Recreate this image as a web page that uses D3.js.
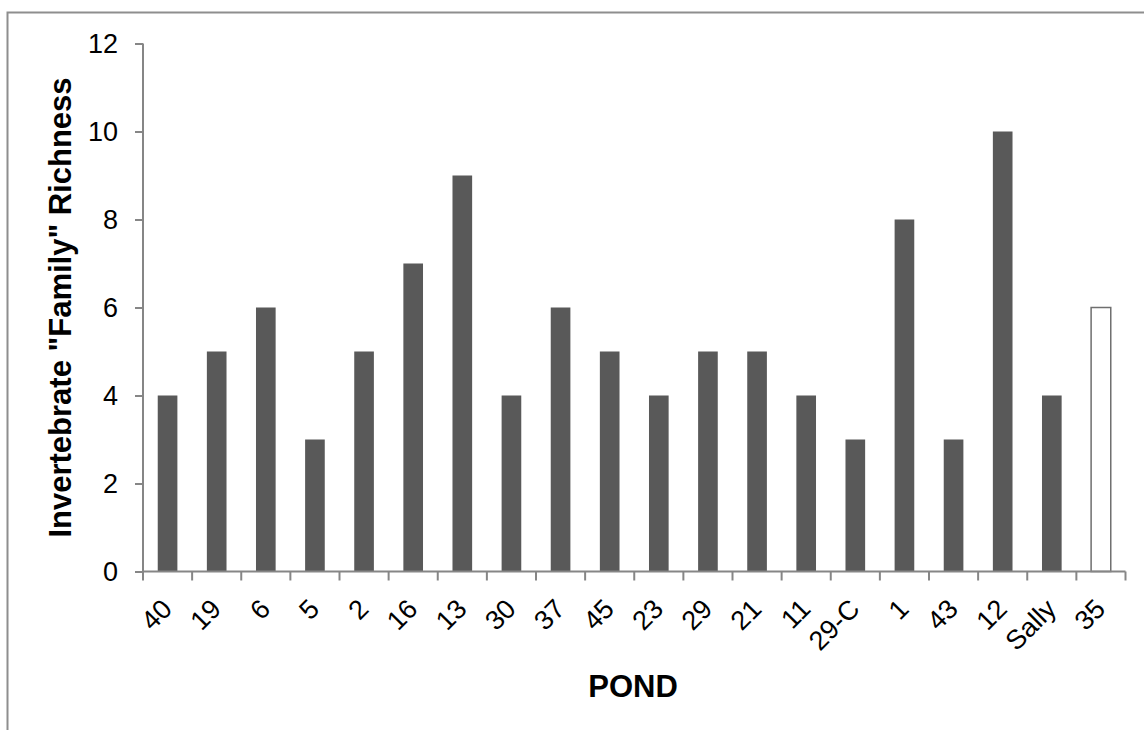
<!DOCTYPE html>
<html>
<head>
<meta charset="utf-8">
<script src="https://cdn.jsdelivr.net/npm/d3@7"></script>
<style>
  html, body { margin: 0; padding: 0; background: #fff; }
  svg { display: block; font-family: "Liberation Sans", Arial, sans-serif; }
</style>
</head>
<body>
<svg id="chart" width="1144" height="730"></svg>
<script>
// Pond names along the x axis
const ponds = ["40", "19", "6", "5", "2", "16", "13", "30", "37", "45",
               "23", "29", "21", "11", "29-C", "1", "43", "12", "Sally", "35"];
// Invertebrate family richness per pond
const richness = [4, 5, 6, 3, 5, 7, 9, 4, 6, 5, 4, 5, 5, 4, 3, 8, 3, 10, 4, 6];
// Ponds drawn as open (unfilled) bars
const openPonds = ["35"];
// Y axis tick values
const yTicks = [0, 2, 4, 6, 8, 10, 12];

const svg = d3.select("#chart");
const W = 1144, H = 730;

// Outer frame
svg.append("rect")
  .attr("x", 7.5).attr("y", 12.5)
  .attr("width", W + 20).attr("height", H + 20)
  .attr("fill", "none")
  .attr("stroke", "#8e8e8e")
  .attr("stroke-width", 2);

const plotLeft = 143, plotRight = 1125.5, plotTop = 43.5, plotBottom = 571.5;

const x = d3.scaleBand()
  .domain(ponds)
  .range([plotLeft, plotRight])
  .paddingInner(0.6)
  .paddingOuter(0.3);

const y = d3.scaleLinear()
  .domain([0, 12])
  .range([plotBottom, plotTop]);

const axisColor = "#868686";
const data = ponds.map((p, i) => ({ pond: p, value: richness[i] }));

// Bars
svg.append("g")
  .selectAll("rect")
  .data(data)
  .join("rect")
  .attr("x", d => x(d.pond))
  .attr("y", d => y(d.value))
  .attr("width", x.bandwidth())
  .attr("height", d => y(0) - y(d.value))
  .attr("fill", d => openPonds.includes(d.pond) ? "#ffffff" : "#595959")
  .attr("stroke", d => openPonds.includes(d.pond) ? "#6f6f6f" : "none")
  .attr("stroke-width", 1.5);

// Y axis
const yAxis = svg.append("g")
  .attr("transform", `translate(${plotLeft},0)`)
  .call(d3.axisLeft(y).tickValues(yTicks).tickSize(8).tickPadding(17).tickSizeOuter(0));
yAxis.select(".domain").attr("stroke", axisColor).attr("stroke-width", 2)
  .attr("d", `M0,${plotTop}V${plotBottom}`);
yAxis.selectAll(".tick line").attr("stroke", axisColor).attr("stroke-width", 2);
yAxis.selectAll(".tick text")
  .attr("fill", "#000")
  .style("font-size", "27px")
  .style("font-family", "'Liberation Sans', Arial, sans-serif");

// X axis: ticks sit on the category boundaries
const step = x.step();
const boundaries = d3.range(ponds.length + 1).map(i => plotLeft + i * step);
const xAxisG = svg.append("g");
xAxisG.append("line")
  .attr("x1", plotLeft).attr("x2", boundaries[boundaries.length - 1])
  .attr("y1", plotBottom).attr("y2", plotBottom)
  .attr("stroke", axisColor).attr("stroke-width", 2);
xAxisG.selectAll("line.tk")
  .data(boundaries)
  .join("line")
  .attr("class", "tk")
  .attr("x1", d => d).attr("x2", d => d)
  .attr("y1", plotBottom).attr("y2", plotBottom + 9)
  .attr("stroke", axisColor).attr("stroke-width", 2);

// Rotated category labels
xAxisG.selectAll("text")
  .data(ponds)
  .join("text")
  .attr("transform", d => `translate(${x(d) + x.bandwidth() / 2 + 6},${plotBottom + 39}) rotate(-45)`)
  .attr("text-anchor", "end")
  .attr("fill", "#000")
  .style("font-size", "27px")
  .text(d => d);

// Axis titles
svg.append("text")
  .attr("x", 633).attr("y", 697)
  .attr("text-anchor", "middle")
  .style("font-size", "31px")
  .style("font-weight", "bold")
  .text("POND");

svg.append("text")
  .attr("transform", "translate(71,307.5) rotate(-90)")
  .attr("text-anchor", "middle")
  .style("font-size", "31px")
  .style("font-weight", "bold")
  .text('Invertebrate "Family" Richness');
</script>
</body>
</html>
